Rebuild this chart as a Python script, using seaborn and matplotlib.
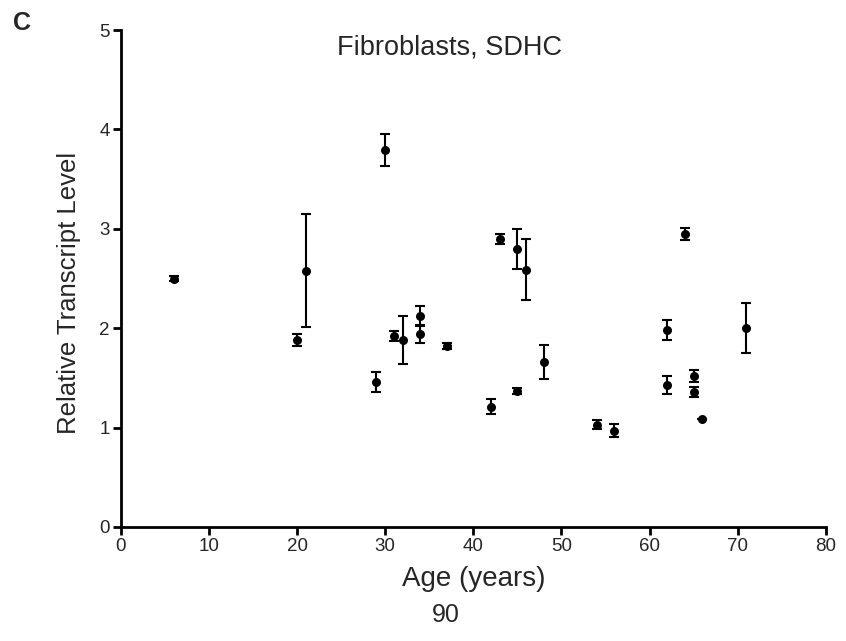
import numpy as np
import pandas as pd
import matplotlib
matplotlib.use("Agg")
import matplotlib.pyplot as plt
import seaborn as sns

age = [6, 20, 21, 29, 30, 31, 32, 34, 34, 37, 42, 43, 45, 45, 46, 48,
       54, 56, 62, 62, 64, 65, 65, 66, 71]
level = [2.50, 1.88, 2.58, 1.46, 3.79, 1.92, 1.88, 2.12, 1.94, 1.82, 1.21, 2.90, 1.37, 2.80, 2.59, 1.66,
         1.03, 0.97, 1.98, 1.43, 2.95, 1.52, 1.36, 1.09, 2.00]
err = [0.03, 0.06, 0.57, 0.10, 0.16, 0.05, 0.245, 0.10, 0.09, 0.03, 0.077, 0.053, 0.03, 0.20, 0.31, 0.167,
       0.047, 0.07, 0.10, 0.09, 0.063, 0.06, 0.05, 0.0, 0.25]

x_ticks = [0, 10, 20, 30, 40, 50, 60, 70, 80]
y_ticks = [0, 1, 2, 3, 4, 5]

df = pd.DataFrame({"age": age, "level": level, "err": err})

sns.set_style("ticks")
plt.rcParams["font.family"] = ["Liberation Sans", "DejaVu Sans"]

fig = plt.figure(figsize=(8.46, 6.41), dpi=100)
ax = fig.add_axes([0.143, 0.178, 0.833, 0.775])

ax.errorbar(df["age"], df["level"], yerr=df["err"], fmt="none", ecolor="black",
            elinewidth=1.5, capsize=3.5, capthick=1.5, zorder=2)
sns.scatterplot(data=df, x="age", y="level", ax=ax, color="black", s=42,
                edgecolor="black", linewidth=0, zorder=3, legend=False)

ax.set_xlim(0, 80)
ax.set_ylim(0, 5)
ax.set_xticks(x_ticks)
ax.set_yticks(y_ticks)
ax.tick_params(axis="both", direction="out", length=6, width=2, labelsize=13.5, pad=2, color="black")
for side in ["top", "right"]:
    ax.spines[side].set_visible(False)
for side in ["left", "bottom"]:
    ax.spines[side].set_linewidth(2)
    ax.spines[side].set_color("black")

ax.set_xlabel("Age (years)", fontsize=20, labelpad=8)
ax.set_ylabel("Relative Transcript Level", fontsize=18.5)
ax.yaxis.set_label_coords(-0.057, 0.47)
fig.text(0.531, 0.926, "Fibroblasts, SDHC", ha="center", va="center", fontsize=19.5)

fig.text(0.026, 0.964, "C", fontsize=18, fontweight="bold", ha="center", va="center")
fig.text(0.527, 0.041, "90", fontsize=18, ha="center", va="center")

fig.savefig("out.png", dpi=100)
